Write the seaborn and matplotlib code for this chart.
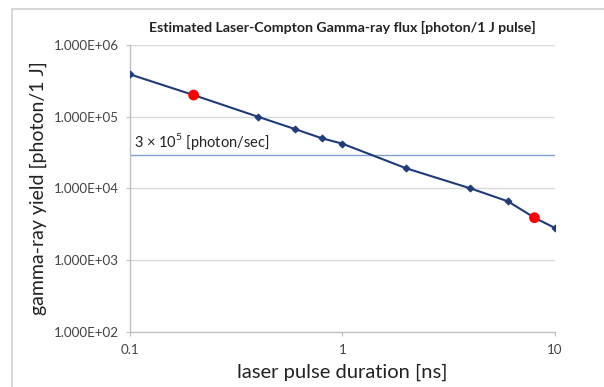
import matplotlib
matplotlib.use("Agg")
import matplotlib.pyplot as plt
import numpy as np
import pandas as pd
import seaborn as sns
from matplotlib.patches import Rectangle
from matplotlib.ticker import FixedLocator, NullLocator

# ─── data ───
pulse_ns = [0.1, 0.2, 0.4, 0.6, 0.8, 1.0, 2.0, 4.0, 6.0, 8.0, 10.0]
yield_ph = [3.9e5, 2.0e5, 1.0e5, 6.7e4, 5.0e4, 4.2e4, 1.9e4, 1.0e4, 6.6e3, 3.9e3, 2.8e3]
marked_ns = [0.2, 8.0]
marked_ph = [2.0e5, 3.9e3]
ref_level = 2.9e4
ref_label = r"3 $\times$ 10$^5$ [photon/sec]"
xticks = [0.1, 1, 10]
xtick_labels = ["0.1", "1", "10"]
yticks = [1e2, 1e3, 1e4, 1e5, 1e6]
ytick_labels = ["1.000E+02", "1.000E+03", "1.000E+04", "1.000E+05", "1.000E+06"]

sns.set_style("white")
plt.rcParams["font.family"] = ["Lato", "DejaVu Sans"]
plt.rcParams["mathtext.fontset"] = "custom"
plt.rcParams["mathtext.rm"] = "Lato"

df = pd.DataFrame({"pulse": pulse_ns, "yield": yield_ph})
red = pd.DataFrame({"pulse": marked_ns, "yield": marked_ph})

fig = plt.figure(figsize=(6.04, 3.87), dpi=100)
ax = fig.add_axes([0.2145, 0.1425, 0.7045, 0.7415])

# chart-area frame (Excel style, runs off the right/bottom)
fig.patches.append(Rectangle((12 / 604, -0.1), 1.2, 1 - 9.5 / 387 + 0.1,
                             transform=fig.transFigure, fill=False,
                             edgecolor="#d0d0d0", linewidth=1.2))

ax.set_xscale("log")
ax.set_yscale("log")
ax.set_xlim(0.1, 10)
ax.set_ylim(1e2, 1e6)

for yv in yticks[1:]:
    ax.axhline(yv, color="#d9d9d9", linewidth=1.0, zorder=0)

ax.axhline(ref_level, color="#7f9fd8", linewidth=1.0, zorder=1)
ax.text(0.105, ref_level * 1.12, ref_label, fontsize=10.5, color="#222222",
        ha="left", va="bottom")

sns.lineplot(data=df, x="pulse", y="yield", ax=ax, color="#1f3b7a",
             linewidth=1.5, marker="D", markersize=3.5, markeredgecolor="#1f3b7a",
             zorder=3)
sns.scatterplot(data=red, x="pulse", y="yield", ax=ax, color="#ff0000",
                s=60, edgecolor="none", zorder=4)

ax.xaxis.set_major_locator(FixedLocator(xticks))
ax.xaxis.set_minor_locator(NullLocator())
ax.set_xticklabels(xtick_labels)
ax.yaxis.set_major_locator(FixedLocator(yticks))
ax.yaxis.set_minor_locator(NullLocator())
ax.set_yticklabels(ytick_labels)
ax.tick_params(axis="both", which="major", length=3, width=0.8,
               color="#bfbfbf", labelsize=9.6, labelcolor="#444444",
               bottom=True, left=True)
ax.tick_params(axis="x", pad=6)
ax.tick_params(axis="y", pad=5)

for side in ["top", "right"]:
    ax.spines[side].set_visible(False)
for side in ["left", "bottom"]:
    ax.spines[side].set_color("#bfbfbf")
    ax.spines[side].set_linewidth(1.0)

ax.set_xlabel("laser pulse duration [ns]", fontsize=14.5, color="#222222", labelpad=5)
ax.set_ylabel("gamma-ray yield [photon/1 J]", fontsize=14, color="#222222", labelpad=5)
ax.set_title("Estimated Laser-Compton Gamma-ray flux [photon/1 J pulse]",
             fontsize=10.2, fontweight="bold", color="#222222", pad=9)

fig.savefig("out.png", dpi=100)
